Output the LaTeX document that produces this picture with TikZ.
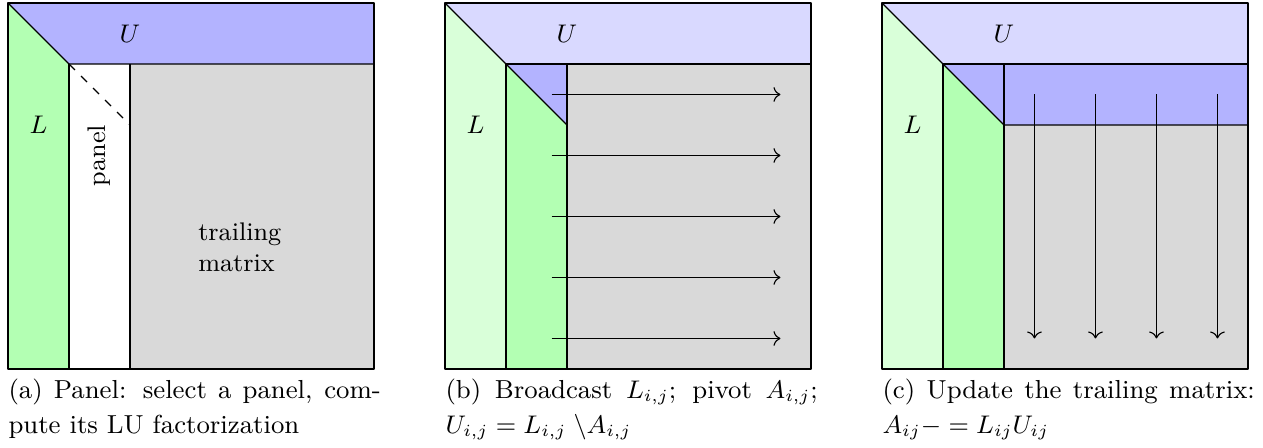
\documentclass[tikz,border=0pt]{standalone}
\usepackage{amsmath,amssymb}
\usetikzlibrary{arrows.meta}
\definecolor{Lgreen}{HTML}{B3FFB3}
\definecolor{Lpale}{HTML}{D9FFD9}
\definecolor{Ublue}{HTML}{B3B3FF}
\definecolor{Upale}{HTML}{D9D9FF}
\definecolor{trail}{HTML}{D9D9D9}
\tikzset{
  every picture/.style={font=\small, line join=round, >=To},
  frame/.style={line width=0.7pt},
  colline/.style={line width=0.55pt},
  bcast/.style={->, line width=0.4pt},
  subcap/.style={anchor=north west, inner sep=0pt, text width=4.62cm, align=justify,
    font=\fontsize{9.2}{12.2}\selectfont},
}

\begin{document}
\begin{tikzpicture}[x=0.757cm,y=0.757cm]
\useasboundingbox (-0.131,-1.279) rectangle (20.574,6.049);
% (a) select the panel
\begin{scope}
\fill[Ublue] (0,6)--(6,6)--(6,5)--(1,5)--cycle;
\fill[Lgreen] (0,6)--(1,5)--(1,0)--(0,0)--cycle;
\fill[trail] (2,0) rectangle (6,5);
\draw (0,6)--(1,5)--(6,5);
\draw (1,0)--(1,5);
\draw (2,0)--(2,5);
\draw[dashed] (1,5)--(2,4);
\draw[frame] (0,0) rectangle (6,6);
\node (Ua) at (2,5.5) {$U$};
\node (La) at (0.5,4) {$L$};
\node[rotate=90] (pan) at (1.5,3.5) {panel};
\node[align=left] (trm) at (3.8,2) {trailing\\matrix};
\node[subcap] (capa) at (0,-0.16) {(a) Panel: select a panel, compute its LU factorization};
\end{scope}
% (b) broadcast
\begin{scope}[shift={(7.164,0)}]
\fill[Upale] (0,6)--(6,6)--(6,5)--(1,5)--cycle;
\fill[Lpale] (0,6)--(1,5)--(1,0)--(0,0)--cycle;
\fill[Ublue] (1,5)--(2,5)--(2,4)--cycle;
\fill[Lgreen] (1,5)--(2,4)--(2,0)--(1,0)--cycle;
\fill[trail] (2,0) rectangle (6,5);
\draw (0,6)--(2,4);
\draw (1,5)--(6,5);
\draw[colline] (1,0)--(1,5);
\draw[colline] (2,0)--(2,5);
\foreach \y in {0.5,1.5,...,4.5}
  \draw[bcast] (1.75,\y)--(5.5,\y);
\draw[frame] (0,0) rectangle (6,6);
\node (Ub) at (2,5.5) {$U$};
\node (Lb) at (0.5,4) {$L$};
\node[subcap] (capb) at (0,-0.16) {(b) Broadcast $L_{i,j}$; pivot $A_{i,j}$; $U_{i,j} = L_{i,j}\;\backslash A_{i,j}$};
\end{scope}
% (c) update trailing matrix
\begin{scope}[shift={(14.328,0)}]
\fill[Upale] (0,6)--(6,6)--(6,5)--(1,5)--cycle;
\fill[Lpale] (0,6)--(1,5)--(1,0)--(0,0)--cycle;
\fill[Lgreen] (1,5)--(2,4)--(2,0)--(1,0)--cycle;
\fill[Ublue] (1,5)--(6,5)--(6,4)--(2,4)--cycle;
\fill[trail] (2,0) rectangle (6,4);
\draw (0,6)--(2,4)--(6,4);
\draw (1,5)--(6,5);
\draw[colline] (1,0)--(1,5);
\draw[colline] (2,0)--(2,5);
\foreach \x in {2.5,3.5,...,5.5}
  \draw[bcast] (\x,4.5)--(\x,0.5);
\draw[frame] (0,0) rectangle (6,6);
\node (Uc) at (2,5.5) {$U$};
\node (Lc) at (0.5,4) {$L$};
\node[subcap] (capc) at (0,-0.16) {(c) Update the trailing matrix: $A_{ij} -= L_{ij}U_{ij}$};
\end{scope}
\end{tikzpicture}
\end{document}
